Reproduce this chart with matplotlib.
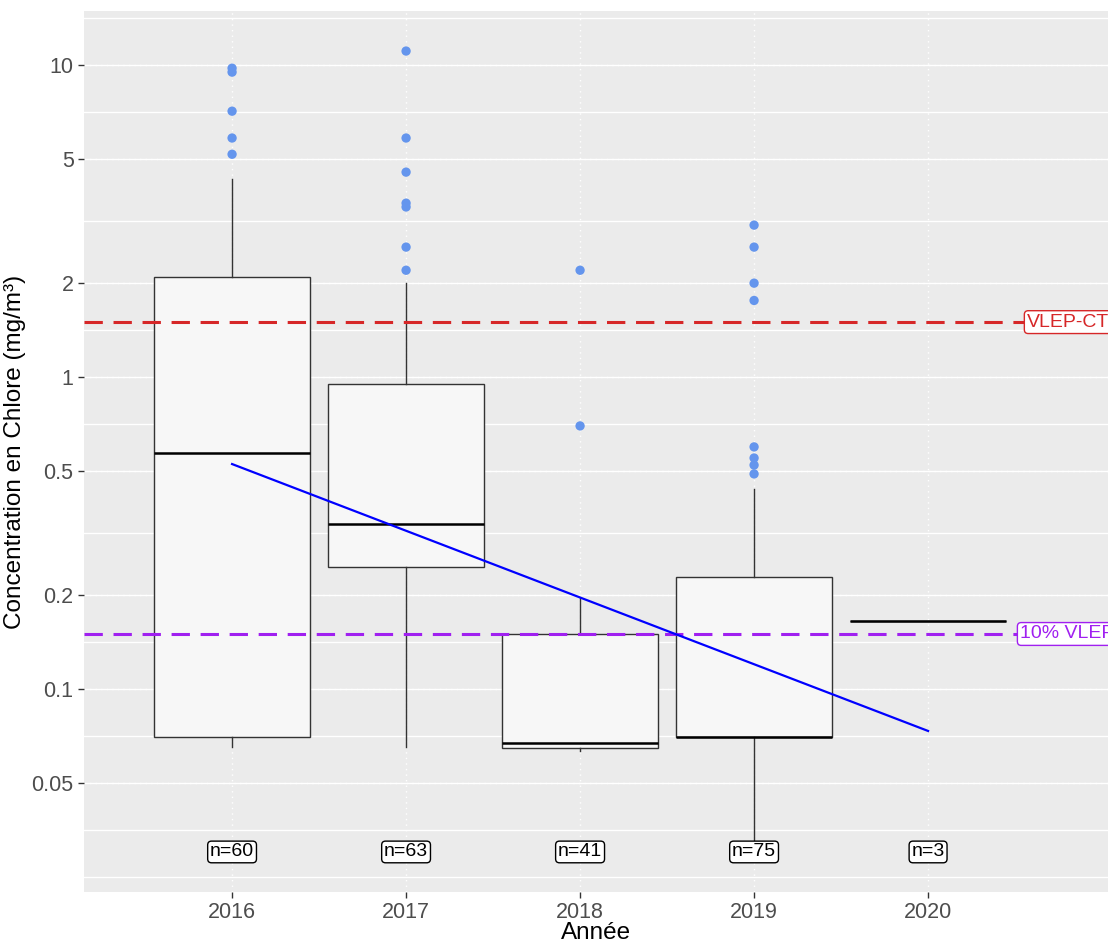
import matplotlib
matplotlib.use("Agg")
import matplotlib.pyplot as plt
import numpy as np

plt.rcParams['font.family'] = ['Liberation Sans', 'DejaVu Sans']

# données
annees = ["2016", "2017", "2018", "2019", "2020"]
n_obs = [60, 63, 41, 75, 3]
q1 = [0.0702, 0.246, 0.0647, 0.0702, 0.165]
mediane = [0.571, 0.338, 0.0671, 0.0702, 0.165]
q3 = [2.09, 0.950, 0.150, 0.229, 0.165]
moust_bas = [0.0652, 0.0652, 0.0633, 0.032, 0.165]
moust_haut = [4.31, 2.00, 0.196, 0.4376, 0.165]
aberrants = [
    [9.78, 9.5, 7.12, 5.84, 5.18],
    [11.1, 5.84, 4.54, 3.61, 3.51, 2.61, 2.20],
    [2.20, 0.697],
    [3.07, 2.61, 2.0, 1.76, 0.597, 0.55, 0.522, 0.489],
    [],
]
tendance_x = [0, 4]
tendance_y = [0.526, 0.0733]
vlep_ct = 1.5
vlep_10 = 0.15
y_label_n = 0.03

major = [0.05, 0.1, 0.2, 0.5, 1, 2, 5, 10]
major_lab = ["0.05", "0.1", "0.2", "0.5", "1", "2", "5", "10"]

fig = plt.figure(figsize=(11.08, 9.42), dpi=100)
ax = fig.add_axes([84/1108, 1-892/942, 1-84/1108, (892-11)/942])
ax.set_facecolor('#EBEBEB')
for s in ax.spines.values():
    s.set_visible(False)

ax.set_yscale('log')
ylo, yhi = 0.030, 11.1
lr = np.log10(yhi) - np.log10(ylo)
ax.set_ylim(10**(np.log10(ylo) - 0.05*lr), 10**(np.log10(yhi) + 0.05*lr))
ax.set_xlim(-0.851, 5.034)

# grille : mineure pleine, majeure pointillée (style ggplot)
lb = np.log10(major)
bd = lb[1] - lb[0]
ext = np.concatenate([[lb[0] - bd], lb, [lb[-1] + bd]])
minor = []
for a, b in zip(ext[:-1], ext[1:]):
    minor.append(a)
    minor.append((a + b) / 2)
for m in minor:
    ax.axhline(10**m, color='white', lw=1.0, zorder=0)
for m in major:
    ax.axhline(m, color='white', lw=1.0, ls=(0, (1, 3)), zorder=0.5)
for i in range(len(annees)):
    ax.axvline(i, color='white', lw=1.0, ls=(0, (1, 3)), zorder=0.5)

stats = []
for i in range(len(annees)):
    stats.append(dict(med=mediane[i], q1=q1[i], q3=q3[i],
                      whislo=moust_bas[i], whishi=moust_haut[i], fliers=[]))
ax.bxp(stats, positions=range(len(annees)), widths=0.9, patch_artist=True,
       showcaps=False, showfliers=False,
       boxprops=dict(facecolor='#F7F7F7', edgecolor='#333333', lw=1.0),
       whiskerprops=dict(color='#333333', lw=1.0),
       medianprops=dict(color='black', lw=1.8), zorder=2)

for i, pts in enumerate(aberrants):
    ax.scatter([i]*len(pts), pts, s=45, color='#6495ED', edgecolors='none', zorder=3)

ax.axhline(vlep_ct, color='#D62728', lw=2.2, ls=(0, (6, 3.5)), zorder=2.5)
ax.axhline(vlep_10, color='#A020F0', lw=2.2, ls=(0, (6, 3.5)), zorder=2.5)

ax.plot(tendance_x, tendance_y, color='blue', lw=1.6, zorder=4)

ax.text(4.57, vlep_ct, "VLEP-CT", color='#D62728', fontsize=14, ha='left', va='center',
        bbox=dict(boxstyle='round,pad=0.15,rounding_size=0.2', fc='white', ec='#D62728', lw=1), zorder=5,
        clip_on=True)
ax.text(4.53, vlep_10, "10% VLEP", color='#A020F0', fontsize=14, ha='left', va='center',
        bbox=dict(boxstyle='round,pad=0.15,rounding_size=0.2', fc='white', ec='#A020F0', lw=1), zorder=5,
        clip_on=True)

for i, n in enumerate(n_obs):
    ax.text(i, y_label_n, f"n={n}", color='black', fontsize=14, ha='center', va='center',
            bbox=dict(boxstyle='round,pad=0.12,rounding_size=0.2', fc='white', ec='black', lw=1), zorder=5)

ax.set_yticks(major)
ax.set_yticklabels(major_lab)
ax.yaxis.set_minor_locator(matplotlib.ticker.NullLocator())
ax.set_xticks(range(len(annees)))
ax.set_xticklabels(annees)
ax.tick_params(axis='both', colors='#333333', labelcolor='#4D4D4D', labelsize=15.5, length=4, width=1)
ax.set_ylabel("Concentration en Chlore (mg/m³)", fontsize=17.5, color='black', labelpad=4)
ax.set_xlabel("Année", fontsize=17.5, color='black', labelpad=-1)

fig.savefig("out.png", dpi=100)
